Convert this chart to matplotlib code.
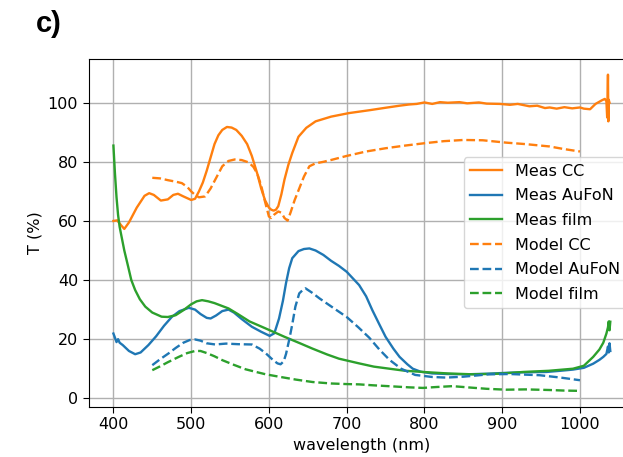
import numpy as np
import matplotlib
matplotlib.use("Agg")
import matplotlib.pyplot as plt

wl_meas_cc = [400, 405, 410, 414, 420, 430, 440, 446, 452, 461, 470, 477, 483, 490, 500,
              505, 510, 515, 520, 525, 530, 535, 540, 546, 552, 558, 565, 572, 578, 585,
              590, 595, 600, 603, 606, 609, 612, 616, 620, 625, 630, 638, 648, 660, 680,
              703, 730, 750, 768, 780, 790, 800, 810, 820, 830, 845, 855, 870, 880, 897,
              910, 920, 935, 945, 955, 961, 970, 980, 990, 1000, 1005, 1013, 1020, 1028, 1032,
              1034, 1035, 1036, 1036.5, 1037, 1038]
t_meas_cc = [60.0, 60.2, 58.5, 57.3, 59.5, 64.5, 68.5, 69.4, 68.8, 66.9, 67.3, 68.8, 69.2, 68.3, 67.1,
             67.5, 70.0, 73.0, 77.0, 81.5, 86.0, 89.0, 90.8, 91.8, 91.6, 90.8, 88.8, 86.0, 82.0, 76.0,
             71.0, 67.0, 64.5, 63.8, 63.5, 63.8, 65.0, 69.0, 74.0, 79.0, 83.0, 88.5, 91.5, 93.7, 95.3,
             96.5, 97.5, 98.3, 99.0, 99.4, 99.6, 100.1, 99.6, 100.2, 100.0, 100.2, 99.8, 100.1, 99.7, 99.6,
             99.3, 99.6, 98.8, 99.0, 98.2, 98.4, 98.0, 98.5, 98.1, 98.4, 98.0, 97.8, 99.6, 100.8, 101.3,
             100.5, 95.0, 109.5, 93.7, 101.0, 100.0]

wl_meas_aufon = [400, 402, 404, 406, 408, 412, 420, 428, 435, 445, 455, 465, 475, 485, 497,
                 505, 512, 520, 525, 532, 540, 548, 555, 565, 578, 590, 601, 607, 613, 618,
                 622, 626, 630, 638, 645, 652, 660, 670, 680, 690, 700, 716, 725, 733, 742,
                 750, 760, 768, 778, 785, 795, 810, 830, 854, 880, 905, 930, 957, 975, 991,
                 1005, 1017, 1025, 1030, 1034, 1036, 1037, 1038, 1039]
t_meas_aufon = [21.9, 20.5, 19.0, 20.0, 18.8, 18.0, 16.0, 14.9, 15.5, 18.0, 21.0, 24.5, 27.5, 29.5, 30.6,
                30.0, 28.5, 27.2, 27.0, 28.0, 29.5, 30.0, 29.0, 26.8, 24.2, 22.5, 21.1, 22.0, 27.0, 33.0,
                39.0, 44.0, 47.4, 49.8, 50.5, 50.7, 50.0, 48.5, 46.5, 44.8, 42.8, 38.3, 34.5, 29.8, 25.0,
                20.8, 16.8, 14.0, 11.5, 10.0, 9.0, 8.4, 8.2, 8.1, 8.3, 8.6, 8.8, 8.9, 9.3, 9.7,
                10.3, 11.7, 13.0, 14.0, 15.0, 17.5, 15.5, 18.6, 16.0]

wl_meas_film = [400, 402, 404, 406, 408, 411, 414, 419, 423, 428, 434, 441, 450, 462, 470,
                480, 490, 500, 507, 514, 522, 530, 540, 548, 560, 575, 596, 620, 640, 656,
                675, 690, 716, 735, 755, 775, 798, 830, 862, 895, 927, 960, 991, 1005, 1017,
                1025, 1030, 1034, 1036, 1037, 1038, 1039]
t_meas_film = [85.5, 76.0, 68.0, 62.0, 58.0, 54.0, 50.0, 44.5, 40.0, 36.6, 33.5, 31.0, 29.0, 27.6, 27.5,
               28.1, 29.8, 31.8, 32.8, 33.2, 32.8, 32.2, 31.2, 30.4, 28.5, 26.0, 23.6, 20.8, 18.6, 16.8,
               14.8, 13.4, 11.8, 10.7, 10.0, 9.3, 8.9, 8.4, 8.1, 8.3, 8.9, 9.3, 10.0, 11.0, 14.0,
               16.5, 18.8, 21.9, 24.0, 26.0, 23.0, 25.9]

# ---- model spectra --------------------------------------------------
wl_model_cc = [450, 460, 470, 480, 488, 495, 500, 505, 510, 518, 525, 533, 540, 548, 556,
               565, 574, 580, 585, 590, 595, 600, 603, 607, 612, 616, 620, 624, 628, 633,
               639, 645, 652, 660, 670, 681, 700, 725, 750, 775, 800, 825, 850, 875, 905,
               930, 961, 980, 1000]
t_model_cc = [74.6, 74.4, 73.8, 73.3, 72.8, 71.5, 70.0, 68.8, 68.0, 68.3, 71.0, 75.0, 78.5, 80.3, 80.8,
              80.6, 79.8, 78.3, 76.0, 72.0, 66.5, 61.5, 61.0, 62.2, 63.2, 62.8, 61.0, 60.1, 63.0, 67.0,
              71.0, 75.0, 78.5, 79.5, 80.0, 80.7, 82.0, 83.5, 84.6, 85.5, 86.3, 87.0, 87.4, 87.3, 86.5,
              86.0, 85.2, 84.3, 83.5]

wl_model_aufon = [450, 460, 471, 480, 490, 498, 505, 512, 520, 531, 545, 560, 578, 588, 596,
                  605, 611, 615, 619, 622, 626, 630, 634, 639, 643, 647, 655, 665, 676, 686,
                  700, 715, 729, 742, 755, 770, 788, 810, 828, 850, 883, 910, 948, 975, 1000]
t_model_aufon = [11.2, 13.2, 15.2, 17.0, 18.8, 19.7, 19.9, 19.5, 18.6, 18.2, 18.5, 18.3, 18.2, 16.8, 15.2,
                 13.0, 11.8, 11.5, 12.5, 15.0, 19.7, 25.0, 31.0, 35.5, 36.5, 37.2, 35.8, 33.8, 31.8, 30.0,
                 27.5, 24.0, 20.5, 16.5, 13.0, 10.0, 7.9, 7.2, 7.0, 7.3, 8.1, 8.2, 7.8, 7.0, 6.1]

wl_model_film = [450, 460, 470, 484, 495, 505, 512, 520, 530, 540, 555, 570, 585, 596, 615,
                 635, 656, 680, 700, 716, 733, 760, 780, 798, 815, 836, 860, 880, 905, 930,
                 960, 980, 1000]
t_model_film = [9.5, 10.8, 12.2, 14.0, 15.3, 16.0, 16.0, 15.3, 14.2, 12.9, 11.3, 9.8, 8.8, 8.1, 7.2,
                6.3, 5.5, 5.0, 4.8, 4.7, 4.4, 4.0, 3.7, 3.5, 3.8, 4.1, 3.6, 3.2, 2.9, 3.0,
                2.8, 2.6, 2.5]

plt.rcParams['font.size'] = 11.5

fig = plt.figure(figsize=(6.23, 4.57), dpi=100)
ax = fig.add_axes([0.1421, 0.1101, 0.8762, 0.7608])

lw = 1.7
ax.plot(wl_meas_cc, t_meas_cc, color='tab:orange', lw=lw, label='Meas CC')
ax.plot(wl_meas_aufon, t_meas_aufon, color='tab:blue', lw=lw, label='Meas AuFoN')
ax.plot(wl_meas_film, t_meas_film, color='tab:green', lw=lw, label='Meas film')
ax.plot(wl_model_cc, t_model_cc, '--', color='tab:orange', lw=lw, label='Model CC')
ax.plot(wl_model_aufon, t_model_aufon, '--', color='tab:blue', lw=lw, label='Model AuFoN')
ax.plot(wl_model_film, t_model_film, '--', color='tab:green', lw=lw, label='Model film')

ax.set_xlim(368, 1070)
ax.set_ylim(-2.85, 114.8)
ax.set_xticks([400, 500, 600, 700, 800, 900, 1000])
ax.set_yticks([0, 20, 40, 60, 80, 100])
ax.grid(True, color='#b0b0b0', lw=1.0)
ax.tick_params(length=4)
ax.set_xlabel('wavelength (nm)')
ax.set_ylabel('T (%)')
ax.legend(loc='center right', labelspacing=0.6)

fig.text(0.058, 0.9306, 'c)', fontsize=21, fontweight='bold',
         family='Liberation Sans', va='baseline', ha='left')

fig.savefig('out.png', dpi=100)
